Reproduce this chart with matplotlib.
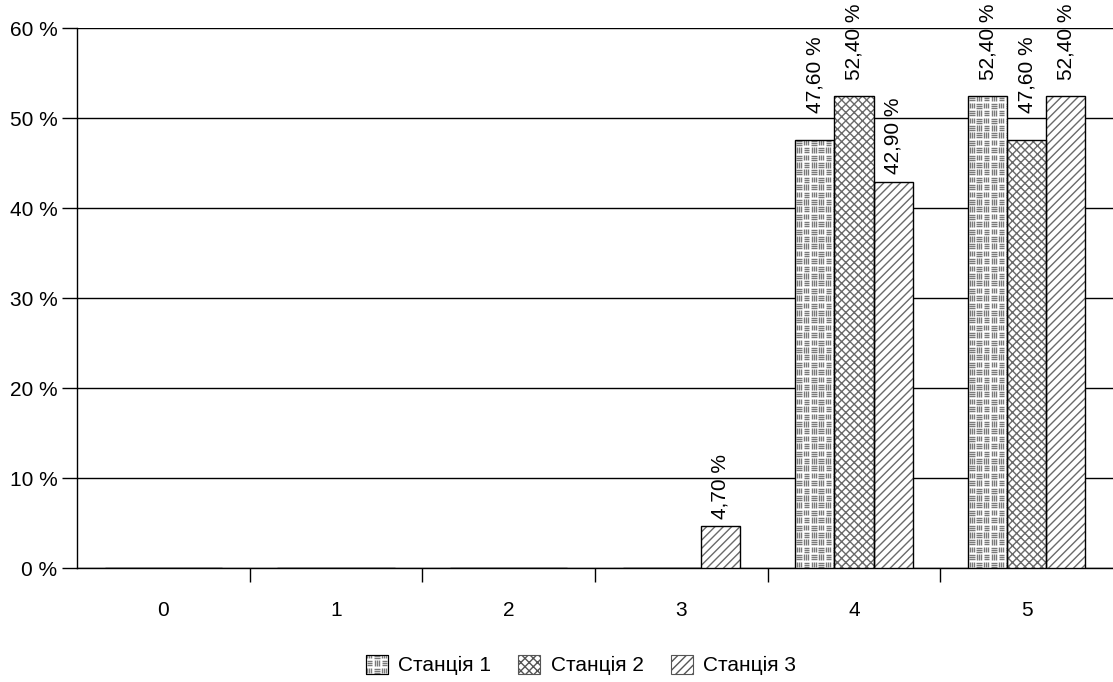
import numpy as np
import matplotlib.pyplot as plt
from matplotlib.collections import LineCollection
from matplotlib.patches import Patch, Rectangle
from matplotlib.legend_handler import HandlerPatch

plt.rcParams['font.family'] = ['Liberation Sans', 'DejaVu Sans']

categories = ['0', '1', '2', '3', '4', '5']
station_names = ['Станція 1', 'Станція 2', 'Станція 3']
station1 = [0, 0, 0, 0, 47.6, 52.4]
station2 = [0, 0, 0, 0, 52.4, 47.6]
station3 = [0, 0, 0, 4.7, 42.9, 52.4]
yticks = [0, 10, 20, 30, 40, 50, 60]

# extra gap (points) between bar top and its rotated label
label_pad = {4.7: 2, 42.9: 3, 47.6: 16, 52.4: 9}

W, H = 1113, 682
fig = plt.figure(figsize=(W / 100, H / 100), dpi=100)
ax = fig.add_axes([77 / W, 1 - 568 / H, 1 - 77 / W, 540 / H])
ax.set_xlim(-0.5, 5.5)
ax.set_ylim(0, 60)

x = np.arange(len(categories))
bw = 0.226
series = [station1, station2, station3]
hatches = [None, 'xxxx', '////']
FS = 15

rects_all = []
for k, vals in enumerate(series):
    xs = x + (k - 1) * bw
    bars = ax.bar(xs, vals, bw, color='white', edgecolor='#6a6a6a',
                  hatch=hatches[k], linewidth=0, zorder=3)
    ax.bar(xs, vals, bw, fill=False, edgecolor='black', linewidth=1.0, zorder=4)
    rects_all.append(bars)
    for xi, v in zip(xs, vals):
        if v > 0:
            ax.annotate(f'{v:.2f} %'.replace('.', ','), (xi, v),
                        xytext=(0, 3 + label_pad.get(v, 0)), textcoords='offset points',
                        rotation=90, ha='center', va='bottom', fontsize=FS,
                        annotation_clip=False)


def weave_segments(x0, y0, w, h, sx, sy, cell=7.4):
    # little blocks of three short strokes, alternating horizontal / vertical
    ncol = int(w / sx / cell) + 2
    nrow = int(h / sy / cell) + 2
    segs = []
    for i in range(ncol):
        for j in range(nrow):
            cx = x0 + i * cell * sx
            cy = y0 + j * cell * sy
            for t in (1.4, 3.4, 5.4):
                if (i + j) % 2:
                    segs.append([(cx + 0.8 * sx, cy + t * sy), (cx + 6.4 * sx, cy + t * sy)])
                else:
                    segs.append([(cx + t * sx, cy + 0.8 * sy), (cx + t * sx, cy + 6.4 * sy)])
    return segs


sx = 6.0 / (W - 77)
sy = 60.0 / 540
for r in rects_all[0]:
    if r.get_height() <= 0:
        continue
    lc = LineCollection(weave_segments(r.get_x(), r.get_y(), r.get_width(), r.get_height(), sx, sy),
                        colors='#7a7a7a', linewidths=1.0, zorder=3.5)
    ax.add_collection(lc)
    lc.set_clip_path(r)


class WeaveHandler(HandlerPatch):
    def create_artists(self, legend, orig_handle, xdescent, ydescent, width, height, fontsize, trans):
        rect = Rectangle((-xdescent, -ydescent), width, height, facecolor='white',
                         edgecolor='black', linewidth=0.8, transform=trans)
        k = 72 / 100
        lc = LineCollection(weave_segments(-xdescent, -ydescent, width, height, k, k),
                            colors='#7a7a7a', linewidths=1.0, transform=trans)
        lc.set_clip_path(rect)
        edge = Rectangle((-xdescent, -ydescent), width, height, fill=False,
                         edgecolor='black', linewidth=0.8, transform=trans)
        return [rect, lc, edge]


ax.set_yticks(yticks)
ax.set_yticklabels([f'{v} %' for v in yticks], fontsize=FS)
ax.yaxis.grid(True, color='black', linewidth=1.0, zorder=0)
ax.tick_params(axis='y', length=11, width=1.0, pad=3)

ax.set_xticks(x)
ax.set_xticklabels(categories, fontsize=FS)
ax.tick_params(axis='x', which='major', length=0, pad=24)
ax.set_xticks(np.arange(0.5, 5.5, 1), minor=True)
ax.tick_params(axis='x', which='minor', length=10, width=1.0)

for s in ['top', 'right']:
    ax.spines[s].set_visible(False)
for s in ['left', 'bottom']:
    ax.spines[s].set_linewidth(1.0)

handles = [Patch(facecolor='white', edgecolor='black', linewidth=0.8),
           Patch(facecolor='white', edgecolor='#555555', hatch='xxxx', linewidth=0.8),
           Patch(facecolor='white', edgecolor='#555555', hatch='////', linewidth=0.8)]
fig.legend(handles, station_names, loc='center', bbox_to_anchor=(581 / W, 1 - 665 / H),
           ncol=3, frameon=False, fontsize=FS, handlelength=1.05, handleheight=1.05,
           handletextpad=0.5, columnspacing=1.3,
           handler_map={handles[0]: WeaveHandler()})

fig.savefig('out.png', dpi=100)
